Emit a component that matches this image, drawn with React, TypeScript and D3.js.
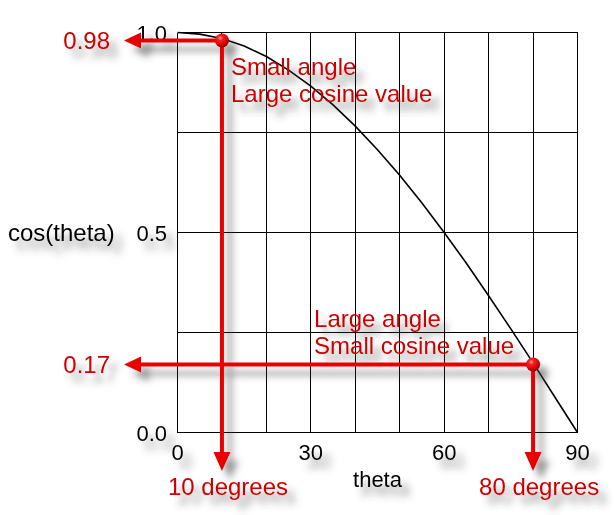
import React from "react";
import * as d3 from "d3";

// ---- data ----
const curveTheta = [0, 5, 10, 15, 20, 25, 30, 35, 40, 45, 50, 55, 60, 65, 70, 75, 80, 85, 90];
const curveCos = [1.0, 0.996, 0.985, 0.966, 0.94, 0.906, 0.866, 0.819, 0.766, 0.707, 0.643, 0.574, 0.5, 0.423, 0.342, 0.259, 0.174, 0.087, 0.0];
const xTicks = [0, 30, 60, 90];
const xGridLines = [10, 20, 30, 40, 50, 60, 70, 80, 90];
const yTicks = [0, 0.5, 1.0];
const yTickLabels = ["0.0", "0.5", "1.0"];
const yGridLines = [0.25, 0.5, 0.75, 1.0];
const highlightTheta = [10, 80];
const highlightCos = [0.98, 0.17];
const highlightValueLabels = ["0.98", "0.17"];
const highlightAngleLabels = ["10 degrees", "80 degrees"];
const annotationLines = [
  ["Small angle", "Large cosine value"],
  ["Large angle", "Small cosine value"],
];
const xTitle = "theta";
const yTitle = "cos(theta)";

const W = 615;
const H = 515;
const FONT = "'Liberation Sans', Arial, Helvetica, sans-serif";
const RED_TEXT = "#cc0000";
const RED_LINE = "#e80000";

export default function App() {
  const x = d3.scaleLinear().domain([0, 90]).range([177.5, 577.5]);
  const y = d3.scaleLinear().domain([0, 1]).range([432.5, 32.5]);
  const pts: [number, number][] = curveTheta.map((t, i) => [t, curveCos[i]]);
  const line = d3
    .line<[number, number]>()
    .x((d) => x(d[0]))
    .y((d) => y(d[1]))
    .curve(d3.curveLinear);

  const arrowLeftTip = 124;
  const arrowLeftBase = 141;
  const arrowDownBase = 452;
  const arrowDownTip = 471;

  const annOffsets = [
    { dx: 9, dy: 34 },
    { dx: -219, dy: -38 },
  ];

  return (
    <svg
      width={W}
      height={H}
      style={{ position: "absolute", left: 0, top: 0, background: "#fff" }}
      fontFamily={FONT}
    >
      <defs>
        <filter id="shadow" x="-20%" y="-20%" width="160%" height="160%">
          <feDropShadow dx="8" dy="9" stdDeviation="3.5" floodColor="#444" floodOpacity="0.55" />
        </filter>
        <radialGradient id="sphere" cx="0.38" cy="0.32" r="0.7">
          <stop offset="0" stopColor="#ffb0b0" />
          <stop offset="0.25" stopColor="#ff2020" />
          <stop offset="0.75" stopColor="#d00000" />
          <stop offset="1" stopColor="#800000" />
        </radialGradient>
      </defs>

      {/* grid */}
      <g stroke="#000" strokeWidth={1} shapeRendering="crispEdges">
        {xGridLines.map((t) => (
          <line key={"gx" + t} x1={x(t)} x2={x(t)} y1={y(0)} y2={y(1)} />
        ))}
        {yGridLines.map((v) => (
          <line key={"gy" + v} x1={x(0)} x2={x(90)} y1={y(v)} y2={y(v)} />
        ))}
        <line x1={x(0)} x2={x(0)} y1={y(0)} y2={y(1)} />
        <line x1={x(0)} x2={x(90)} y1={y(0)} y2={y(0)} />
      </g>

      {/* curve */}
      <path d={line(pts) || ""} fill="none" stroke="#000" strokeWidth={1.6} />

      {/* black labels with shadow */}
      <g filter="url(#shadow)" fill="#000">
        {yTicks.map((v, i) => (
          <text key={"yt" + v} x={167} y={y(v) + 8.5} fontSize={22} textAnchor="end">
            {yTickLabels[i]}
          </text>
        ))}
        {xTicks.map((t) => (
          <text key={"xt" + t} x={x(t)} y={460} fontSize={22} textAnchor="middle">
            {t}
          </text>
        ))}
        <text x={(x(0) + x(90)) / 2} y={487} fontSize={22} textAnchor="middle">
          {xTitle}
        </text>
        <text x={8} y={241} fontSize={24}>
          {yTitle}
        </text>
      </g>

      {/* red highlights */}
      <g filter="url(#shadow)">
        {highlightTheta.map((t, i) => {
          const px = x(t);
          const py = y(highlightCos[i]);
          const off = annOffsets[i];
          return (
            <g key={"h" + t}>
              <line x1={arrowLeftBase - 1} x2={px} y1={py} y2={py} stroke={RED_LINE} strokeWidth={4} />
              <line x1={px} x2={px} y1={py} y2={arrowDownBase + 1} stroke={RED_LINE} strokeWidth={4} />
              <path
                d={`M${arrowLeftTip},${py} L${arrowLeftBase},${py - 8} L${arrowLeftBase},${py + 8} Z`}
                fill={RED_LINE}
              />
              <path
                d={`M${px},${arrowDownTip} L${px - 8.5},${arrowDownBase} L${px + 8.5},${arrowDownBase} Z`}
                fill={RED_LINE}
              />
              <circle cx={px} cy={py} r={7} fill="url(#sphere)" />
              <text x={110} y={py + 8.5} fontSize={24} fill={RED_TEXT} textAnchor="end">
                {highlightValueLabels[i]}
              </text>
              <text x={px - 54} y={495} fontSize={24} fill={RED_TEXT}>
                {highlightAngleLabels[i]}
              </text>
              {annotationLines[i].map((s, j) => (
                <text
                  key={s}
                  x={px + off.dx}
                  y={py + off.dy + j * 27}
                  fontSize={24}
                  fill={RED_TEXT}
                >
                  {s}
                </text>
              ))}
            </g>
          );
        })}
      </g>
    </svg>
  );
}
